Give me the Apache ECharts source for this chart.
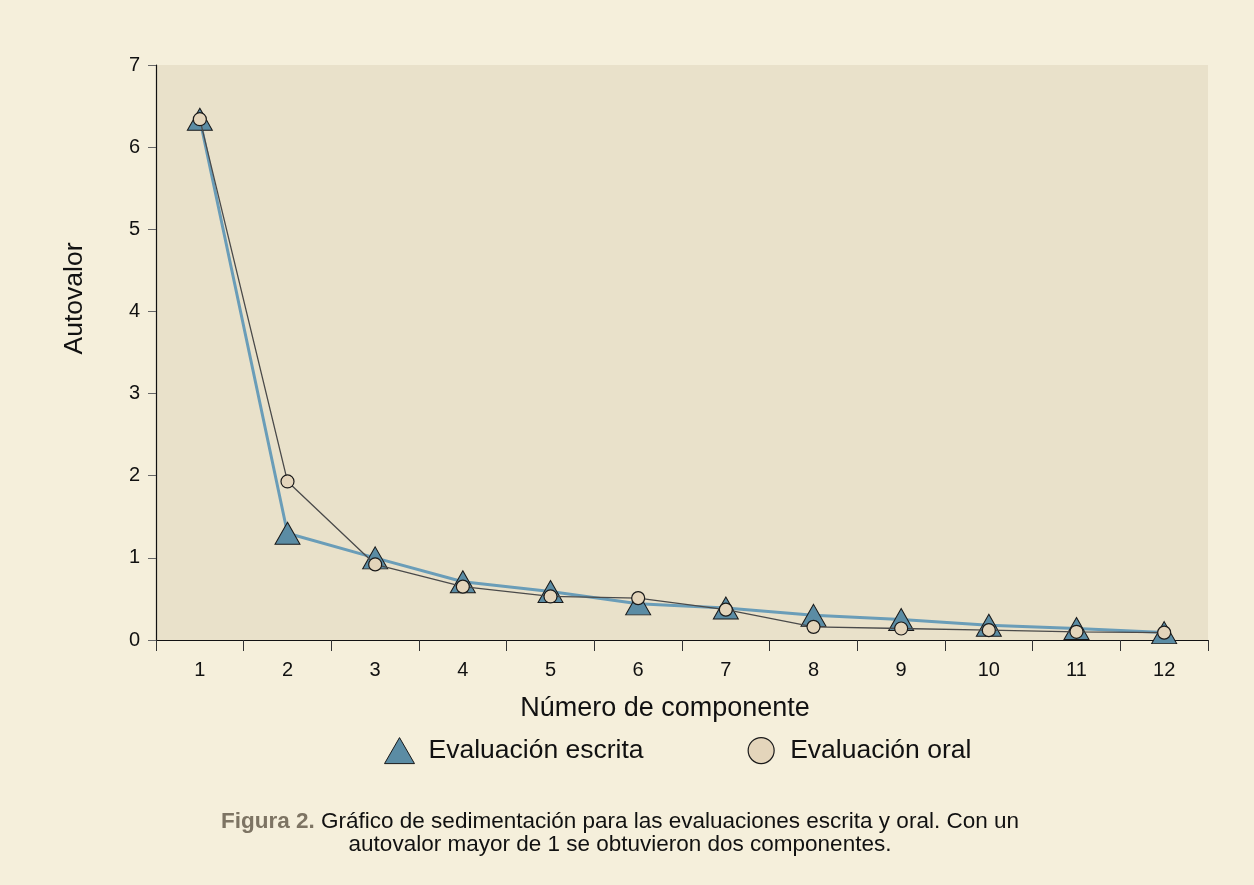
<!DOCTYPE html>
<html>
<head>
<meta charset="utf-8">
<script src="https://cdn.jsdelivr.net/npm/echarts@6/dist/echarts.min.js"></script>
<style>
  html, body { margin: 0; padding: 0; background: #f5efdb; }
  #chart { width: 1254px; height: 885px; }
</style>
</head>
<body>
<div id="chart"></div>
<script>
// Component numbers on the horizontal axis
const components = ['1', '2', '3', '4', '5', '6', '7', '8', '9', '10', '11', '12'];
// Eigenvalues for each evaluation type
const escrita = [6.34, 1.30, 1.00, 0.71, 0.59, 0.44, 0.39, 0.30, 0.25, 0.18, 0.14, 0.09];
const oral    = [6.34, 1.93, 0.92, 0.65, 0.53, 0.51, 0.37, 0.16, 0.14, 0.12, 0.10, 0.09];
const seriesNames = ['Evaluación escrita', 'Evaluación oral'];
const xTitle = 'Número de componente';
const yTitle = 'Autovalor';
const captionLead = 'Figura 2.';
const captionBody = ' Gráfico de sedimentación para las evaluaciones escrita y oral. Con un\nautovalor mayor de 1 se obtuvieron dos componentes.';

const FONT = '"Liberation Sans", Arial, Helvetica, sans-serif';
const chart = echarts.init(document.getElementById('chart'), null, { renderer: 'canvas' });

chart.setOption({
  backgroundColor: '#f5efdb',
  animation: false,
  textStyle: { fontFamily: FONT, color: '#111' },
  grid: {
    left: 156, right: 46, top: 65, bottom: 245,
    show: true, backgroundColor: '#e9e1ca', borderWidth: 0
  },
  legend: {
    left: 384, top: 737, padding: 0,
    itemWidth: 30, itemHeight: 26, itemGap: 104,
    textStyle: { fontFamily: FONT, fontSize: 26.5, color: '#111', padding: [0, 0, 0, 9] },
    data: [
      { name: seriesNames[0], icon: 'triangle', itemStyle: { color: '#5b8ca4', borderColor: '#1a1a1a', borderWidth: 1 } },
      { name: seriesNames[1], icon: 'circle', itemStyle: { color: '#e4d5bb', borderColor: '#1a1a1a', borderWidth: 1.2 } }
    ]
  },
  xAxis: {
    type: 'category',
    data: components,
    boundaryGap: true,
    name: xTitle,
    nameLocation: 'middle',
    nameGap: 55,
    nameTextStyle: { fontFamily: FONT, fontSize: 27, color: '#111', padding: [0, 34, 0, 0] },
    axisLine: { lineStyle: { color: '#111', width: 1.2 } },
    axisTick: { show: true, length: 11, lineStyle: { color: '#333' } },
    axisLabel: { fontFamily: FONT, fontSize: 20, color: '#111', margin: 20 },
    splitLine: { show: false }
  },
  yAxis: {
    type: 'value',
    min: 0, max: 7, interval: 1,
    name: yTitle,
    nameLocation: 'middle',
    nameGap: 68,
    nameTextStyle: { fontFamily: FONT, fontSize: 26.5, color: '#111', padding: [0, 0, 0, 108] },
    axisLine: { show: true, lineStyle: { color: '#111', width: 1.2 } },
    axisTick: { show: true, length: 8, lineStyle: { color: '#666' } },
    axisLabel: { fontFamily: FONT, fontSize: 20, color: '#111', margin: 16 },
    splitLine: { show: false }
  },
  series: [
    {
      name: seriesNames[0],
      type: 'line',
      data: escrita,
      symbol: 'triangle',
      symbolSize: [25, 22],
      lineStyle: { color: '#6a9db8', width: 3 },
      itemStyle: { color: '#5b8ca4', borderColor: '#1a1a1a', borderWidth: 1 },
      z: 2
    },
    {
      name: seriesNames[1],
      type: 'line',
      data: oral,
      symbol: 'circle',
      symbolSize: 13,
      lineStyle: { color: '#4a4a4a', width: 1.3 },
      itemStyle: { color: '#e4d5bb', borderColor: '#1a1a1a', borderWidth: 1.2 },
      z: 3
    }
  ],
  graphic: [
    {
      type: 'text',
      x: 620, y: 810,
      style: {
        text: '{b|' + captionLead + '}' + captionBody,
        fontFamily: FONT,
        fontSize: 22.5,
        lineHeight: 23,
        fill: '#111',
        align: 'center',
        rich: {
          b: { fontFamily: FONT, fontSize: 22.5, fontWeight: 'bold', fill: '#7d7463', lineHeight: 23 }
        }
      }
    }
  ]
});
</script>
</body>
</html>
